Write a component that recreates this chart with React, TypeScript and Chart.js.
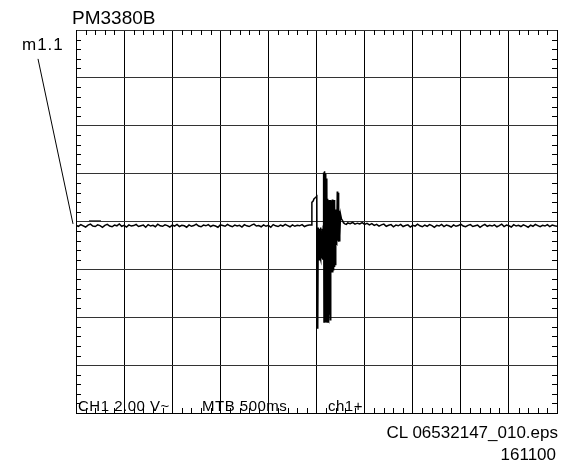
import React, { useEffect, useRef } from "react";
import { Chart, registerables } from "chart.js";

Chart.register(...registerables);

// Time axis: 10 divisions of 500 ms; volts axis: 8 divisions of 2 V
const timeMin = 0;
const timeMax = 5000;
const timeDiv = 500;
const voltMin = -8;
const voltMax = 8;
const voltDiv = 2;
const sampleStepMs = 25;

// Baseline before the event (t = 0 .. 2425 ms)
const preVolts = [
  -0.16, -0.2, -0.13, -0.18, -0.23, -0.15, -0.11, -0.19, -0.21, -0.14,
  -0.17, -0.24, -0.16, -0.12, -0.19, -0.22, -0.15, -0.18, -0.1, -0.2,
  -0.16, -0.23, -0.14, -0.19, -0.17, -0.12, -0.21, -0.18, -0.15, -0.24,
  -0.13, -0.19, -0.16, -0.22, -0.11, -0.18, -0.2, -0.14, -0.17, -0.23,
  -0.15, -0.19, -0.12, -0.21, -0.16, -0.18, -0.24, -0.14, -0.2, -0.17,
  -0.11, -0.19, -0.22, -0.15, -0.18, -0.13, -0.21, -0.16, -0.19, -0.24,
  -0.14, -0.17, -0.2, -0.12, -0.18, -0.22, -0.15, -0.19, -0.16, -0.23,
  -0.13, -0.18, -0.21, -0.15, -0.11, -0.19, -0.17, -0.22, -0.14, -0.2,
  -0.16, -0.24, -0.13, -0.18, -0.21, -0.15, -0.19, -0.12, -0.17, -0.22,
  -0.14, -0.2, -0.16, -0.18, -0.13, -0.21, -0.17, -0.15,
];
const preStart = 0;

// The event burst
const burstTimes = [
  2448, 2452, 2465, 2475, 2490, 2503,
  2508, 2513, 2518,
  2524, 2528, 2532, 2537, 2541, 2546, 2550, 2555, 2560, 2565, 2570,
  2574, 2578, 2582, 2586, 2590, 2594, 2598, 2603, 2607, 2611,
  2616, 2620, 2624, 2628, 2632, 2636, 2640, 2644,
  2648, 2652, 2657, 2661, 2665, 2669, 2673, 2678, 2682, 2686, 2690, 2695,
  2700, 2704, 2708, 2712, 2716, 2720, 2724, 2728, 2732, 2736, 2740, 2744,
  2750, 2760, 2770, 2780, 2795, 2810,
];
const burstVolts = [
  -0.15, 0.8, 0.85, 0.95, 1.0, 1.05,
  -4.45, -4.3, -0.25,
  -0.25, -1.6, -0.3, -1.5, -0.25, -1.6, -0.4, -1.55, -0.3, -1.6, -0.2,
  2.05, -4.2, 2.1, -4.15, 2.0, -4.22, 1.9, -4.1, 1.8, -4.2,
  0.95, -4.15, 0.85, -4.18, 0.9, -3.9, 0.88, -4.1,
  0.9, -2.1, 0.85, -2.0, 0.92, -2.13, 0.8, -2.05, 0.9, -1.9, 0.75, -1.8,
  0.5, -0.85, 0.45, -0.9, 1.25, -0.8, 1.2, -0.85, 0.5, -0.8, 0.45, -0.6,
  0.3, 0.1, 0.05, -0.05, -0.1, -0.12,
];

// Baseline after the event (t = 2825 .. 5000 ms)
const postVolts = [
  -0.06, -0.09, -0.04, -0.11, -0.07, -0.1, -0.05, -0.12, -0.08, -0.14,
  -0.09, -0.16, -0.12, -0.19, -0.14, -0.11, -0.2, -0.16, -0.13, -0.22,
  -0.15, -0.18, -0.12, -0.21, -0.17, -0.14, -0.23, -0.16, -0.19, -0.11,
  -0.18, -0.22, -0.15, -0.2, -0.13, -0.17, -0.24, -0.16, -0.19, -0.12,
  -0.21, -0.15, -0.18, -0.23, -0.14, -0.2, -0.17, -0.11, -0.19, -0.22,
  -0.16, -0.13, -0.21, -0.18, -0.15, -0.24, -0.17, -0.12, -0.2, -0.16,
  -0.19, -0.14, -0.22, -0.17, -0.11, -0.21, -0.15, -0.18, -0.23, -0.13,
  -0.19, -0.16, -0.21, -0.14, -0.18, -0.24, -0.15, -0.2, -0.12, -0.17,
  -0.22, -0.16, -0.19, -0.13, -0.21, -0.15, -0.18, -0.2,
];
const postStart = 2825;

// Ground-level marker
const markerTimes = [135, 260];
const markerVolts = [0.03, 0.03];
const pointerVolt = -0.1;

const FONT = '"Liberation Sans", Arial, Helvetica, sans-serif';

const scopeTicks = {
  id: "scopeTicks",
  afterDraw(chart: any) {
    const { ctx, chartArea, scales } = chart;
    const xs = scales.x;
    const ys = scales.y;
    ctx.save();
    ctx.strokeStyle = "#000";
    ctx.lineWidth = 1;
    const len = 5;
    ctx.beginPath();
    for (let t = timeMin; t < timeMax; t += timeDiv / 5) {
      if (t % timeDiv === 0) continue;
      const x = Math.round(xs.getPixelForValue(t)) + 0.5;
      ctx.moveTo(x, chartArea.top);
      ctx.lineTo(x, chartArea.top + len);
      ctx.moveTo(x, chartArea.bottom);
      ctx.lineTo(x, chartArea.bottom - len);
    }
    for (let i = 1; i < ((voltMax - voltMin) / voltDiv) * 5; i++) {
      if (i % 5 === 0) continue;
      const v = voltMin + (i * voltDiv) / 5;
      const y = Math.round(ys.getPixelForValue(v)) + 0.5;
      ctx.moveTo(chartArea.left, y);
      ctx.lineTo(chartArea.left + len, y);
      ctx.moveTo(chartArea.right, y);
      ctx.lineTo(chartArea.right - len, y);
    }
    ctx.stroke();
    // pointer line from label m1.1 to trace level
    const ey = ys.getPixelForValue(pointerVolt);
    const ex = chartArea.left - 3;
    ctx.beginPath();
    ctx.moveTo(ex - 35, ey - 165);
    ctx.lineTo(ex, ey);
    ctx.stroke();
    ctx.restore();
  },
};

export default function App() {
  const canvasRef = useRef<HTMLCanvasElement | null>(null);

  useEffect(() => {
    const trace: { x: number; y: number }[] = [];
    preVolts.forEach((v, i) => trace.push({ x: preStart + i * sampleStepMs, y: v }));
    burstTimes.forEach((t, i) => trace.push({ x: t, y: burstVolts[i] }));
    postVolts.forEach((v, i) => trace.push({ x: postStart + i * sampleStepMs, y: v }));
    const marker = markerTimes.map((t, i) => ({ x: t, y: markerVolts[i] }));

    const chart = new Chart(canvasRef.current as HTMLCanvasElement, {
      type: "line",
      data: {
        datasets: [
          {
            data: trace,
            borderColor: "#000",
            borderWidth: 1.5,
            pointRadius: 0,
            tension: 0,
          },
          {
            data: marker,
            borderColor: "#222",
            borderWidth: 1,
            pointRadius: 0,
          },
        ],
      },
      options: {
        animation: false,
        responsive: false,
        events: [],
        layout: { padding: { left: 76, top: 30, right: 17, bottom: 51 } },
        plugins: {
          legend: { display: false },
          title: { display: false },
          tooltip: { enabled: false },
        },
        scales: {
          x: {
            type: "linear",
            min: timeMin,
            max: timeMax,
            ticks: { display: false, stepSize: timeDiv },
            grid: { color: "#000", lineWidth: 1, drawTicks: false },
            border: { display: true, color: "#000", width: 1 },
          },
          y: {
            type: "linear",
            min: voltMin,
            max: voltMax,
            ticks: { display: false, stepSize: voltDiv },
            grid: { color: "#333", lineWidth: 1, drawTicks: false },
            border: { display: true, color: "#000", width: 1 },
          },
        },
      },
      plugins: [scopeTicks],
    });
    return () => chart.destroy();
  }, []);

  const base: React.CSSProperties = {
    position: "absolute",
    fontFamily: FONT,
    lineHeight: 1,
    whiteSpace: "nowrap",
    color: "#000",
  };

  return (
    <div style={{ position: "fixed", left: 0, top: 0, width: 574, height: 464, background: "#fff" }}>
      <canvas ref={canvasRef} width={574} height={464} style={{ position: "absolute", left: 0, top: 0 }} />
      <div style={{ ...base, left: 72, top: 8, fontSize: 19 }}>PM3380B</div>
      <div style={{ ...base, left: 22, top: 36, fontSize: 17, letterSpacing: 1 }}>m1.1</div>
      <div style={{ ...base, left: 78, top: 398, fontSize: 15, letterSpacing: 0.5 }}>CH1 2.00 V~</div>
      <div style={{ ...base, left: 202, top: 398, fontSize: 15, letterSpacing: 0.5 }}>MTB 500ms</div>
      <div style={{ ...base, left: 328, top: 398, fontSize: 15, letterSpacing: 0.5 }}>ch1+</div>
      <div style={{ ...base, right: 16, top: 424, fontSize: 17 }}>CL 06532147_010.eps</div>
      <div style={{ ...base, right: 18, top: 446, fontSize: 17 }}>161100</div>
    </div>
  );
}
